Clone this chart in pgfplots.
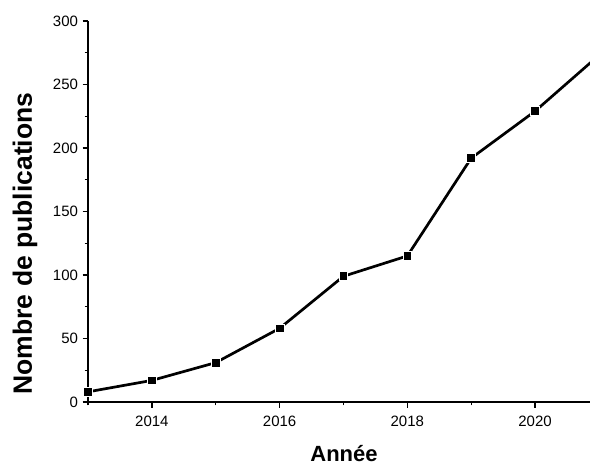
\documentclass[border=0pt]{standalone}
\usepackage{pgfplots}
\pgfplotsset{compat=1.18}
\usepackage{fontspec}
\setmainfont{Liberation Sans}
\begin{document}
\begin{tikzpicture}
\useasboundingbox (-88pt,-64pt) rectangle (502pt,402pt);
\begin{axis}[
  at={(0,0)}, anchor=south west,
  scale only axis, width=502pt, height=381pt,
  xmin=2013, xmax=2020.86, ymin=0, ymax=300,
  axis lines*=left,
  axis line style={line width=1.6pt},
  every tick/.style={black, line width=1.3pt},
  tick align=outside,
  major tick length=5.5pt, minor tick length=3.5pt,
  xtick={2014,2016,2018,2020},
  minor xtick={2013,2015,2017,2019},
  ytick={0,50,100,150,200,250,300},
  minor ytick={25,75,125,175,225,275},
  /pgf/number format/1000 sep={},
  /pgf/number format/assume math mode=true,
  tick label style={font=\fontsize{15}{17}\selectfont},
  xticklabel style={yshift=-5pt},
  yticklabel style={xshift=-1pt},
  xlabel={Année},
  ylabel={Nombre de publications},
  xlabel style={font=\fontsize{22}{25}\selectfont\bfseries, at={(axis description cs:0.51,-0.1365)}, anchor=center},
  ylabel style={font=\fontsize{26.5}{29}\selectfont\bfseries, at={(axis description cs:-0.1255,0.416)}, anchor=center},
  clip=true,
]
\addplot[black, line width=2.7pt, mark=square*, mark size=4.4pt,
  mark options={fill=black, draw=white, line width=0.8pt}]
  coordinates {(2013,8) (2014,17) (2015,31) (2016,58) (2017,99) (2018,115) (2019,192) (2020,229) (2021,273)};
\end{axis}
\end{tikzpicture}
\end{document}
